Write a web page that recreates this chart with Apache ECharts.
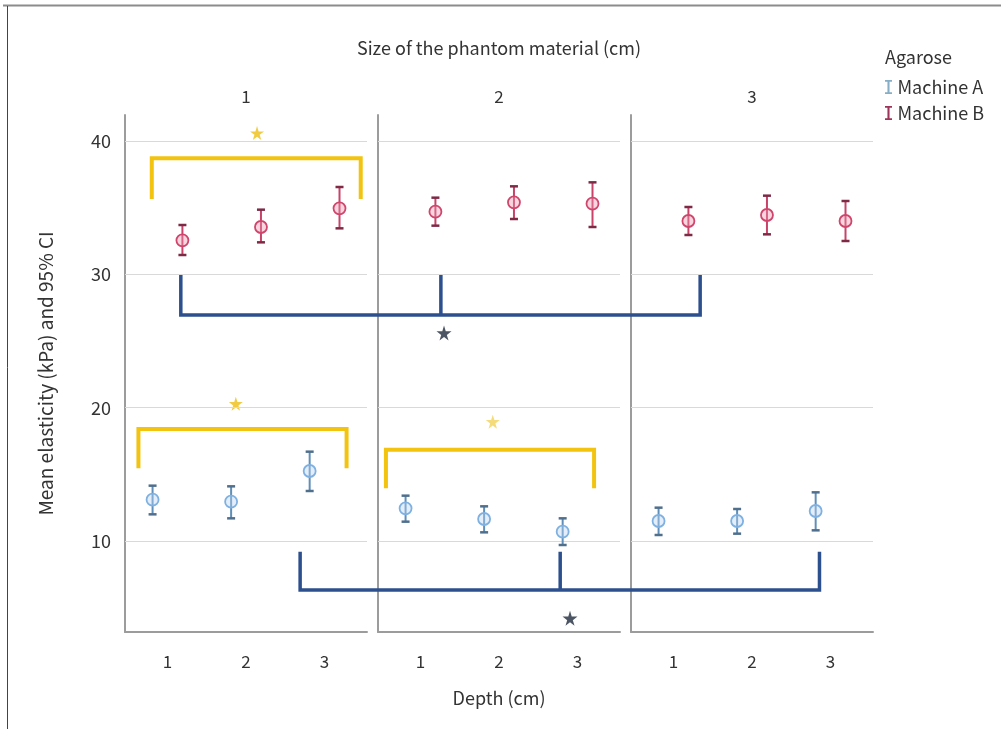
<!DOCTYPE html>
<html><head><meta charset="utf-8">
<script src="https://cdn.jsdelivr.net/npm/echarts@6/dist/echarts.min.js"></script>
<style>html,body{margin:0;padding:0;background:#fff}#c{width:1001px;height:729px}</style>
</head><body><div id="c"></div>
<script>
// ---- data ----
const sizeLabels = ['1', '2', '3'];          // size of phantom material (panels)
const depthLabels = ['1', '2', '3'];         // depth (cm)
const depthValues = [1, 2, 3];
const yTicks = [10, 20, 30, 40];
// [panel][depth]
const machineA_mean = [[13.1, 12.95, 15.25], [12.45, 11.65, 10.7], [11.5, 11.5, 12.25]];
const machineA_low  = [[12.0, 11.7, 13.75], [11.45, 10.65, 9.7], [10.45, 10.55, 10.8]];
const machineA_high = [[14.15, 14.1, 16.7], [13.4, 12.6, 11.7], [12.5, 12.4, 13.65]];
const machineB_mean = [[32.55, 33.55, 34.95], [34.7, 35.4, 35.3], [34.0, 34.45, 34.0]];
const machineB_low  = [[31.45, 32.4, 33.45], [33.65, 34.15, 33.55], [32.95, 33.0, 32.5]];
const machineB_high = [[33.7, 34.85, 36.55], [35.75, 36.6, 36.9], [35.05, 35.9, 35.5]];
// significance brackets within a panel (yellow)
const yellowPanel = [0, 0, 1];
const yellowFrom  = [0.80, 0.63, 0.56];
const yellowTo    = [3.46, 3.28, 3.21];
const yellowBar   = [38.7, 18.4, 16.85];
const yellowLeg   = [35.65, 15.45, 13.95];
const yellowStarX = [2.14, 1.87, 1.92];
const yellowStarY = [40.6, 20.3, 18.95];
// significance brackets across panels (dark blue): legs as [panel, depth position]
const blueLegsUpper = [[0, 1.17], [1, 1.26], [2, 1.34]];
const blueTopUpper = 30, blueBarUpper = 26.95;
const blueStarUpper = [1, 1.30, 25.6];
const blueLegsLower = [[0, 2.69], [1, 2.78], [2, 2.86]];
const blueTopLower = 9.2, blueBarLower = 6.33;
const blueStarLower = [1, 2.905, 4.2];

// ---- layout ----
const X_MIN = 0.459, X_MAX = 3.54, PANEL_SPAN = 3.223;
const Y_MIN = 3.175, Y_MAX = 41.95;
const GRID_LEFT = 125, GRID_STEP = 253, GRID_W = 242, GRID_TOP = 115, GRID_H = 517;
const OFFSET = 0.19;
const FONT = 'Noto Sans CJK SC';
const STAR = 'path://M50,0 L61,35 L98,35 L68,57 L79,91 L50,70 L21,91 L32,57 L2,35 L39,35 Z';
const IBEAM = 'path://M0,0H10V2.5H6.5V17.5H10V20H0V17.5H3.5V2.5H0Z';

const colA = {bar: '#5f8fb8', cap: '#4f6f8c', ring: '#7eb1e2', fill: 'rgba(185,212,242,0.4)'};
const colB = {bar: '#c8436a', cap: '#7e2a45', ring: '#d0456c', fill: 'rgba(238,150,175,0.4)'};

function errRender(c) {
  return function (params, api) {
    const x = api.value(0), m = api.value(1), lo = api.value(2), hi = api.value(3);
    const pM = api.coord([x, m]), pL = api.coord([x, lo]), pH = api.coord([x, hi]);
    const cw = 4;
    return {type: 'group', children: [
      {type: 'line', shape: {x1: pL[0], y1: pL[1], x2: pH[0], y2: pH[1]}, style: {stroke: c.bar, lineWidth: 2}},
      {type: 'line', shape: {x1: pH[0] - cw, y1: pH[1], x2: pH[0] + cw, y2: pH[1]}, style: {stroke: c.cap, lineWidth: 2.5}},
      {type: 'line', shape: {x1: pL[0] - cw, y1: pL[1], x2: pL[0] + cw, y2: pL[1]}, style: {stroke: c.cap, lineWidth: 2.5}},
      {type: 'circle', shape: {cx: pM[0], cy: pM[1], r: 6}, style: {fill: c.fill, stroke: c.ring, lineWidth: 1.8}}
    ]};
  };
}

const grid = [], xAxis = [], yAxis = [], series = [];
for (let i = 0; i < 3; i++) {
  grid.push({left: GRID_LEFT + i * GRID_STEP, top: GRID_TOP, width: GRID_W, height: GRID_H});
}
grid.push({left: GRID_LEFT, top: GRID_TOP, width: GRID_STEP * 3, height: GRID_H});

for (let i = 0; i < 3; i++) {
  xAxis.push({
    type: 'value', gridIndex: i, min: X_MIN, max: X_MAX,
    axisLine: {show: true, lineStyle: {color: '#9c9c9c', width: 2}},
    axisTick: {show: false}, splitLine: {show: false},
    axisLabel: {customValues: depthValues, formatter: v => depthLabels[Math.round(v) - 1],
      fontSize: 17, color: '#333', fontFamily: FONT, margin: 21},
    name: i === 1 ? 'Depth (cm)' : '', nameLocation: 'middle', nameGap: 57,
    nameTextStyle: {fontSize: 18, color: '#333', fontFamily: FONT}
  });
}
for (let i = 0; i < 3; i++) {
  xAxis.push({
    type: 'category', gridIndex: i, position: 'top', data: [sizeLabels[i]],
    axisLine: {show: false}, axisTick: {show: false}, splitLine: {show: false},
    axisLabel: {fontSize: 17, color: '#333', fontFamily: FONT, margin: 10},
    name: i === 1 ? 'Size of the phantom material (cm)' : '', nameLocation: 'middle', nameGap: 58,
    nameTextStyle: {fontSize: 18, color: '#333', fontFamily: FONT}
  });
}
xAxis.push({type: 'value', gridIndex: 3, min: X_MIN, max: X_MIN + 3 * PANEL_SPAN, show: false});

for (let i = 0; i < 3; i++) {
  yAxis.push({
    type: 'value', gridIndex: i, min: Y_MIN, max: Y_MAX,
    axisLine: {show: true, lineStyle: {color: '#9c9c9c', width: 2}},
    axisTick: {show: false}, splitLine: {show: false},
    axisLabel: {show: i === 0, customValues: yTicks, fontSize: 18, color: '#333', fontFamily: FONT, margin: 14},
    name: i === 0 ? 'Mean elasticity (kPa) and 95% CI' : '', nameLocation: 'middle', nameGap: 70,
    nameTextStyle: {fontSize: 19, color: '#333', fontFamily: FONT}
  });
}
yAxis.push({type: 'value', gridIndex: 3, min: Y_MIN, max: Y_MAX, show: false});

for (let i = 0; i < 3; i++) {
  series.push({
    type: 'custom', name: 'Machine A', xAxisIndex: i, yAxisIndex: i,
    itemStyle: {color: '#86aec6'}, renderItem: errRender(colA), encode: {x: 0, y: 1}, z: 5,
    data: depthValues.map((d, j) => [d - OFFSET, machineA_mean[i][j], machineA_low[i][j], machineA_high[i][j]]),
    markLine: {silent: true, symbol: 'none', label: {show: false},
      lineStyle: {color: '#d9d9d9', width: 1, type: 'solid'},
      data: yTicks.map(v => ({yAxis: v}))}
  });
  series.push({
    type: 'custom', name: 'Machine B', xAxisIndex: i, yAxisIndex: i,
    itemStyle: {color: '#9e3459'}, renderItem: errRender(colB), encode: {x: 0, y: 1}, z: 5,
    data: depthValues.map((d, j) => [d + OFFSET, machineB_mean[i][j], machineB_low[i][j], machineB_high[i][j]])
  });
}

// yellow brackets + stars
for (let k = 0; k < yellowPanel.length; k++) {
  const p = yellowPanel[k];
  series.push({
    type: 'line', xAxisIndex: p, yAxisIndex: p, symbol: 'none', silent: true, z: 3,
    lineStyle: {color: '#f2c40f', width: 4, cap: 'butt', join: 'miter'},
    data: [[yellowFrom[k], yellowLeg[k]], [yellowFrom[k], yellowBar[k]], [yellowTo[k], yellowBar[k]], [yellowTo[k], yellowLeg[k]]]
  });
  series.push({
    type: 'scatter', xAxisIndex: p, yAxisIndex: p, symbol: STAR, symbolSize: 14, silent: true, z: 4,
    itemStyle: {color: k === 2 ? '#f1d35a' : '#eebf14'},
    data: [[yellowStarX[k], yellowStarY[k]]]
  });
}

// blue cross-panel brackets (overlay grid)
function ov(leg) { return leg[1] + leg[0] * PANEL_SPAN; }
function blueBracket(legs, top, bar, star) {
  series.push({
    type: 'line', xAxisIndex: 6, yAxisIndex: 3, symbol: 'none', silent: true, z: 3,
    lineStyle: {color: '#2c4f8e', width: 3.5, cap: 'butt', join: 'miter'},
    data: [[ov(legs[0]), top], [ov(legs[0]), bar], [ov(legs[2]), bar], [ov(legs[2]), top]]
  });
  series.push({
    type: 'line', xAxisIndex: 6, yAxisIndex: 3, symbol: 'none', silent: true, z: 3,
    lineStyle: {color: '#2c4f8e', width: 3.5, cap: 'butt'},
    data: [[ov(legs[1]), top], [ov(legs[1]), bar]]
  });
  series.push({
    type: 'scatter', xAxisIndex: 6, yAxisIndex: 3, symbol: STAR, symbolSize: 15, silent: true, z: 4,
    itemStyle: {color: '#1f2a3c'},
    data: [[star[1] + star[0] * PANEL_SPAN, star[2]]]
  });
}
blueBracket(blueLegsUpper, blueTopUpper, blueBarUpper, blueStarUpper);
blueBracket(blueLegsLower, blueTopLower, blueBarLower, blueStarLower);

const chart = echarts.init(document.getElementById('c'), null, {renderer: 'canvas'});
chart.setOption({
  animation: false,
  backgroundColor: '#fff',
  title: {text: 'Agarose', left: 880, top: 43, textStyle: {fontSize: 18, fontWeight: 'normal', color: '#333', fontFamily: FONT}},
  legend: {
    orient: 'vertical', left: 880, top: 73, itemWidth: 8, itemHeight: 14, itemGap: 8,
    textStyle: {fontSize: 18, color: '#333', fontFamily: FONT},
    data: [{name: 'Machine A', icon: IBEAM}, {name: 'Machine B', icon: IBEAM}]
  },
  graphic: [
    {type: 'line', shape: {x1: 3, y1: 5.5, x2: 1001, y2: 5.5}, style: {stroke: '#8c8c8c', lineWidth: 2}},
    {type: 'line', shape: {x1: 7.5, y1: 6, x2: 7.5, y2: 729}, style: {stroke: '#444', lineWidth: 1}}
  ],
  grid, xAxis, yAxis, series
});
</script>
</body></html>
